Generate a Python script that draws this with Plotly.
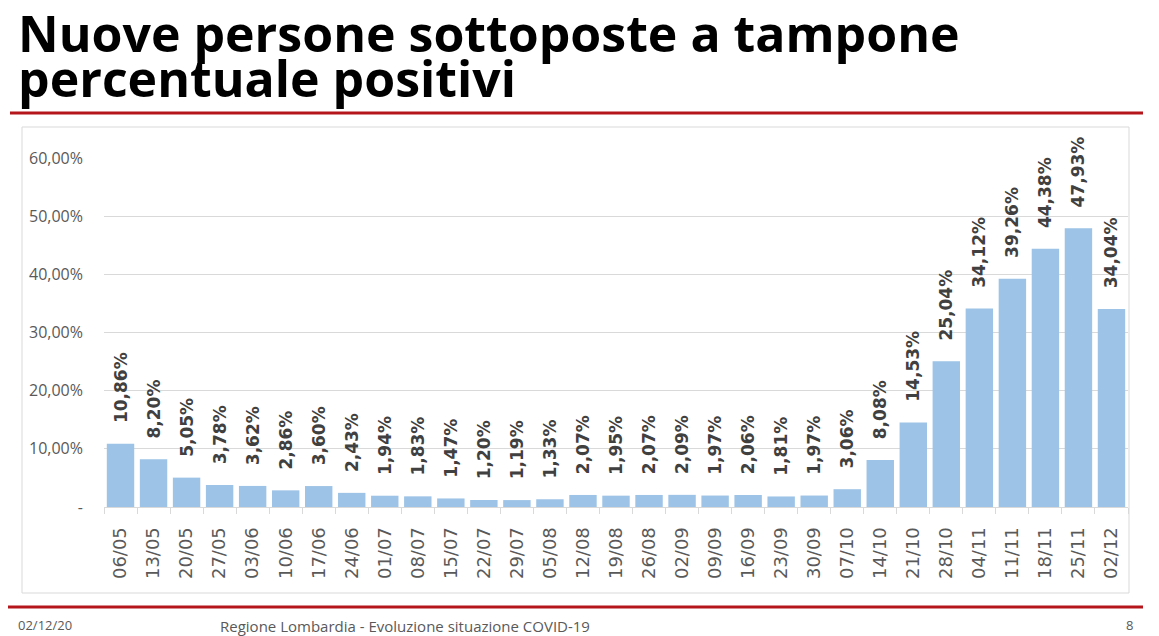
import plotly.graph_objects as go

categories = ["06/05","13/05","20/05","27/05","03/06","10/06","17/06","24/06","01/07","08/07",
              "15/07","22/07","29/07","05/08","12/08","19/08","26/08","02/09","09/09","16/09",
              "23/09","30/09","07/10","14/10","21/10","28/10","04/11","11/11","18/11","25/11","02/12"]
values = [10.86, 8.20, 5.05, 3.78, 3.62, 2.86, 3.60, 2.43, 1.94, 1.83,
          1.47, 1.20, 1.19, 1.33, 2.07, 1.95, 2.07, 2.09, 1.97, 2.06,
          1.81, 1.97, 3.06, 8.08, 14.53, 25.04, 34.12, 39.26, 44.38, 47.93, 34.04]
labels = ["\u00a0\u00a0\u00a0" + f"{v:.2f}".replace(".", ",") + "%" for v in values]
ytick_vals = [0, 10, 20, 30, 40, 50, 60]
ytick_text = ["-", "10,00%", "20,00%", "30,00%", "40,00%", "50,00%", "60,00%"]

W, H = 1159, 636
L, R, T, B = 104, 31, 158, 129

fig = go.Figure(go.Bar(
    x=categories, y=values, text=labels, textposition="outside", textangle=-90,
    constraintext="none",
    marker=dict(color="#9DC3E6", line=dict(width=0)),
    textfont=dict(family="DejaVu Sans", size=17, color="#404040", weight="bold"),
    cliponaxis=False, hoverinfo="skip"))

fig.update_layout(
    width=W, height=H, margin=dict(l=L, r=R, t=T, b=B),
    paper_bgcolor="white", plot_bgcolor="white", showlegend=False, bargap=0.17,
    font=dict(family="Open Sans", color="#595959"),
    xaxis=dict(type="category", tickangle=-90, tickfont=dict(family="DejaVu Sans", size=18, color="#595959"),
               showline=True, linecolor="#D9D9D9", linewidth=1, ticks="outside", tickson="boundaries",
               tickcolor="#D9D9D9", ticklen=6, showgrid=False, ticklabelstandoff=12),
    yaxis=dict(range=[0, 60], tickvals=ytick_vals, ticktext=ytick_text, showgrid=True,
               gridcolor="#D9D9D9", gridwidth=1, zeroline=False, ticks="", ticklabelstandoff=20,
               tickfont=dict(family="Open Sans", size=16, color="#595959")),
)

PW, PH = W - L - R, H - T - B
def fx(x):
    return (x - L) / PW
def fy(y):
    return (H - B - y) / PH
def px(x0, y0, x1, y1):
    return dict(x0=fx(x0), x1=fx(x1), y0=fy(y0), y1=fy(y1))

shapes = [
    dict(type="rect", xref="paper", yref="paper", line=dict(color="#D9D9D9", width=1), fillcolor="rgba(0,0,0,0)", layer="below", **px(22, 127, 1129, 593)),
    dict(type="line", xref="paper", yref="paper", line=dict(color="#B4161B", width=3), **px(10, 113, 1143, 113)),
    dict(type="line", xref="paper", yref="paper", line=dict(color="#B4161B", width=3), **px(8, 607, 1143, 607)),
]
fig.update_layout(shapes=shapes)

title_lines = ["Nuove persone sottoposte a tampone", "percentuale positivi"]
for line, yc in zip(title_lines, [33, 78]):
    fig.add_annotation(xref="paper", yref="paper", x=fx(16), y=fy(yc), xanchor="left", yanchor="middle",
                       text="<b>" + line + "</b>", showarrow=False, align="left",
                       font=dict(family="Open Sans", size=50, color="black"))
fig.add_annotation(xref="paper", yref="paper", x=fx(218), y=fy(626), xanchor="left", yanchor="middle",
                   text="Regione Lombardia - Evoluzione situazione COVID-19", showarrow=False,
                   font=dict(family="Open Sans", size=15, color="#595959"))
fig.add_annotation(xref="paper", yref="paper", x=fx(16), y=fy(636), xanchor="left", yanchor="bottom",
                   text="02/12/20", showarrow=False, font=dict(family="Open Sans", size=13, color="#595959"))
fig.add_annotation(xref="paper", yref="paper", x=fx(1124), y=fy(636), xanchor="left", yanchor="bottom",
                   text="8", showarrow=False, font=dict(family="Open Sans", size=13, color="#595959"))

fig.write_html("out.html")
